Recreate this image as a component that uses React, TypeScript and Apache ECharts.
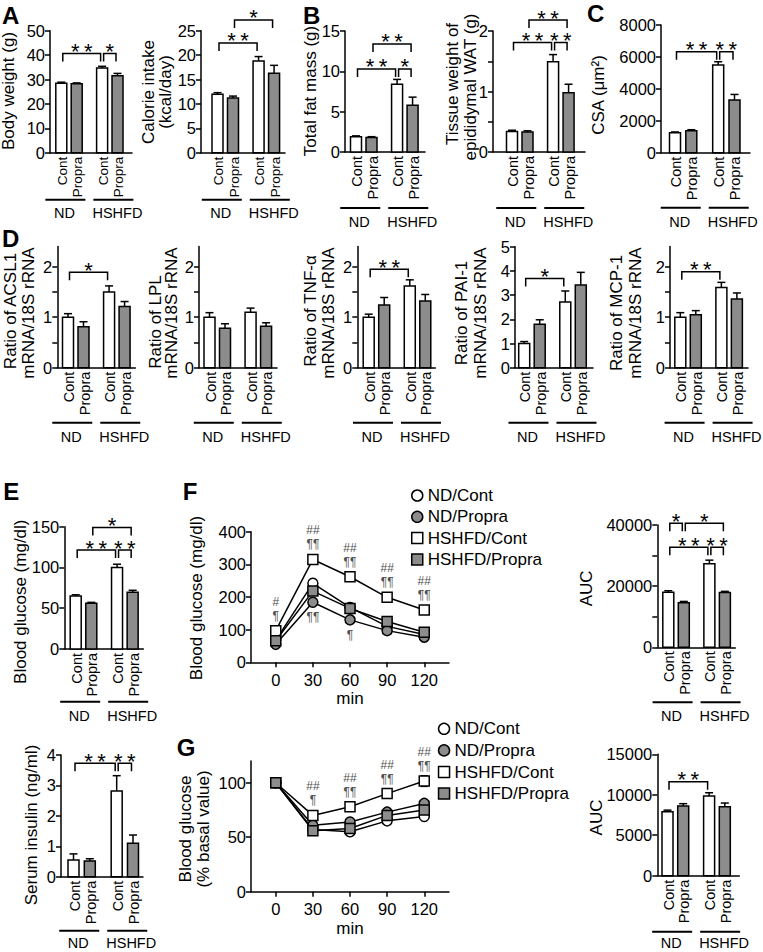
import React, { useEffect, useRef } from 'react';
import * as echarts from 'echarts';

const FONT = '"Liberation Sans", Arial, Helvetica, sans-serif';
const BLACK = '#000';
const GRAY = '#8c8c8c';
const LW = 1.5;
const BAR_W = 11;
const CAP = 4;
const TICK = 8;

// ---------- categories ----------
const treatLabels = ['Cont', 'Propra', 'Cont', 'Propra'];
const dietLabels = ['ND', 'HSHFD'];
const groupNames = ['ND/Cont', 'ND/Propra', 'HSHFD/Cont', 'HSHFD/Propra'];

// ---------- A ----------
const bodyWeightMean = [28.5, 28.3, 34.7, 31.5];
const bodyWeightSem = [0.4, 0.3, 0.7, 1.0];
const bodyWeightSig = [[0, 2, 40.7, '**'], [2, 3, 40.7, '*']];
const calorieMean = [12.0, 11.2, 18.8, 16.3];
const calorieSem = [0.3, 0.4, 0.9, 1.6];
const calorieSig = [[0, 2, 22.5, '**'], [1, 3, 27.2, '*']];
// ---------- B ----------
const fatMassMean = [1.9, 1.8, 8.4, 5.8];
const fatMassSem = [0.1, 0.1, 0.6, 1.0];
const fatMassSig = [[0, 2, 10.3, '**'], [2, 3, 10.3, '*'], [1, 3, 13.4, '**']];
const watMean = [0.34, 0.33, 1.49, 0.98];
const watSem = [0.02, 0.02, 0.12, 0.14];
const watSig = [[0, 2, 1.81, '**'], [2, 3, 1.81, '**'], [1, 3, 2.18, '**']];
// ---------- C ----------
const csaMean = [1250, 1380, 5500, 3300];
const csaSem = [50, 60, 200, 350];
const csaSig = [[0, 2, 6330, '**'], [2, 3, 6330, '**']];
// ---------- D ----------
const acsl1Mean = [1.0, 0.81, 1.5, 1.21];
const acsl1Sem = [0.07, 0.1, 0.12, 0.1];
const acsl1Sig = [[0, 2, 1.89, '*']];
const lplMean = [1.0, 0.78, 1.1, 0.82];
const lplSem = [0.09, 0.09, 0.08, 0.07];
const lplSig = [];
const tnfMean = [1.0, 1.24, 1.62, 1.32];
const tnfSem = [0.06, 0.15, 0.12, 0.13];
const tnfSig = [[0, 2, 1.95, '**']];
const pai1Mean = [1.0, 1.8, 2.72, 3.42];
const pai1Sem = [0.08, 0.18, 0.45, 0.52];
const pai1Sig = [[0, 2, 3.69, '*']];
const mcp1Mean = [1.0, 1.05, 1.59, 1.36];
const mcp1Sem = [0.09, 0.08, 0.1, 0.12];
const mcp1Sig = [[0, 2, 1.9, '**']];
// ---------- E ----------
const glucoseMean = [65, 56, 100, 69.5];
const glucoseSem = [1.5, 1.2, 4, 2.5];
const glucoseSig = [[0, 2, 121.4, '**'], [2, 3, 121.4, '**'], [1, 3, 149, '*']];
const insulinMean = [0.55, 0.52, 2.82, 1.1];
const insulinSem = [0.2, 0.07, 0.5, 0.27];
const insulinSig = [[0, 2, 3.73, '**'], [2, 3, 3.73, '**']];
// ---------- F (GTT) ----------
const gttTimes = [0, 30, 60, 90, 120];
const gttNDCont = [68, 242, 168, 110, 85];
const gttNDPropra = [55, 184, 130, 97, 77];
const gttHSHFDCont = [97, 315, 262, 199, 160];
const gttHSHFDPropra = [66, 218, 165, 125, 92];
const gttNDContErr = [3, 10, 6, 5, 4];
const gttNDPropraErr = [3, 8, 6, 5, 4];
const gttHSHFDContErr = [6, 10, 10, 10, 8];
const gttHSHFDPropraErr = [4, 9, 6, 6, 5];
const gttHashAbove = ['#', '##', '##', '##', '##'];
const gttParaAbove = ['¶', '¶¶', '¶¶', '¶¶', '¶¶'];
const gttParaBelow = ['', '¶¶', '¶', '', ''];
const gttAucMean = [18000, 14600, 27300, 17900];
const gttAucSem = [500, 400, 1200, 400];
const gttAucSig = [[0, 1, 40550, '*'], [1, 3, 40550, '*'], [0, 2, 32700, '**'], [2, 3, 32700, '**']];
// ---------- G (ITT) ----------
const ittTimes = [0, 30, 60, 90, 120];
const ittNDCont = [100, 57, 55, 65, 69];
const ittNDPropra = [100, 61, 64, 73, 81];
const ittHSHFDCont = [100, 70, 78, 90, 101.5];
const ittHSHFDPropra = [100, 56, 58, 70, 75];
const ittNDContErr = [1, 2, 2, 3, 2];
const ittNDPropraErr = [1, 2, 2, 3, 3];
const ittHSHFDContErr = [1, 2, 2, 3, 5];
const ittHSHFDPropraErr = [1, 2, 2, 3, 3];
const ittHashAbove = ['', '##', '##', '##', '##'];
const ittParaAbove = ['', '¶', '¶¶', '¶¶', '¶¶'];
const ittAucMean = [7900, 8600, 9850, 8530];
const ittAucSem = [200, 300, 400, 450];
const ittAucSig = [[0, 2, 11615, '**']];

// ---------- layout ----------
const SLOTS = [0, 1, 2.65, 3.65];
const range = (a, b, s) => { const r = []; for (let v = a; v <= b + 1e-9; v += s) r.push(+v.toFixed(4)); return r; };

const barPanels = [
  { mean: bodyWeightMean, sem: bodyWeightSem, sig: bodyWeightSig, axisX: 50, top: 30.7, y0: 152.7, width: 82, offset: 11.3, unit: 15.4, yMax: 50, ticks: range(0, 50, 10), labels: range(0, 50, 10), lineDy: 47, textDy: 60, labelSize: 13.5 },
  { mean: calorieMean, sem: calorieSem, sig: calorieSig, axisX: 201, top: 30.7, y0: 152.7, width: 84, offset: 16.5, unit: 15.5, yMax: 25, ticks: range(0, 25, 5), labels: range(0, 25, 5), lineDy: 47, textDy: 60, labelSize: 13.5 },
  { mean: fatMassMean, sem: fatMassSem, sig: fatMassSig, axisX: 345, top: 31, y0: 152, width: 80, offset: 11, unit: 15.5, yMax: 15, ticks: range(0, 15, 5), labels: range(0, 15, 5), lineDy: 56, textDy: 70, labelSize: 14.5 },
  { mean: watMean, sem: watSem, sig: watSig, axisX: 493, top: 31, y0: 152, width: 92, offset: 19, unit: 15.5, yMax: 2, ticks: range(0, 2, 0.5), labels: [0, 1, 2], lineDy: 56, textDy: 70, labelSize: 14.5 },
  { mean: csaMean, sem: csaSem, sig: csaSig, axisX: 661, top: 25, y0: 152.7, width: 89, offset: 14, unit: 16.3, yMax: 8000, ticks: range(0, 8000, 2000), labels: range(0, 8000, 2000), lineDy: 55, textDy: 69, labelSize: 14.5 },
  { mean: acsl1Mean, sem: acsl1Sem, sig: acsl1Sig, axisX: 57.3, top: 246.5, y0: 367.7, width: 78, offset: 10.7, unit: 15.5, yMax: 2.4, ticks: range(0, 2, 0.5), labels: [0, 1, 2], lineDy: 55, textDy: 69, labelSize: 14.5 },
  { mean: lplMean, sem: lplSem, sig: lplSig, axisX: 199, top: 246.5, y0: 367.7, width: 78, offset: 10.5, unit: 15.5, yMax: 2.4, ticks: range(0, 2, 0.5), labels: [0, 1, 2], lineDy: 55, textDy: 69, labelSize: 14.5 },
  { mean: tnfMean, sem: tnfSem, sig: tnfSig, axisX: 357.3, top: 246.5, y0: 367.7, width: 78, offset: 11.4, unit: 15.5, yMax: 2.4, ticks: range(0, 2, 0.5), labels: [0, 1, 2], lineDy: 55, textDy: 69, labelSize: 14.5 },
  { mean: pai1Mean, sem: pai1Sem, sig: pai1Sig, axisX: 515, top: 246.7, y0: 367.7, width: 78, offset: 9.2, unit: 15.5, yMax: 5, ticks: range(0, 5, 1), labels: range(0, 5, 1), lineDy: 55, textDy: 69, labelSize: 14.5 },
  { mean: mcp1Mean, sem: mcp1Sem, sig: mcp1Sig, axisX: 670, top: 246.5, y0: 367.7, width: 78, offset: 10.3, unit: 15.5, yMax: 2.4, ticks: range(0, 2, 0.5), labels: [0, 1, 2], lineDy: 55, textDy: 69, labelSize: 14.5 },
  { mean: glucoseMean, sem: glucoseSem, sig: glucoseSig, axisX: 64.3, top: 526.7, y0: 649, width: 79, offset: 11.4, unit: 15.6, yMax: 150, ticks: range(0, 150, 50), labels: range(0, 150, 50), lineDy: 52.7, textDy: 67, labelSize: 14.5 },
  { mean: gttAucMean, sem: gttAucSem, sig: gttAucSig, axisX: 657.3, top: 525, y0: 647.3, width: 78, offset: 11, unit: 15.5, yMax: 40000, ticks: range(0, 40000, 10000), labels: [0, 20000, 40000], lineDy: 55, textDy: 69, labelSize: 14.5 },
  { mean: insulinMean, sem: insulinSem, sig: insulinSig, axisX: 61, top: 755, y0: 876.7, width: 82, offset: 12.5, unit: 16.3, yMax: 4, ticks: range(0, 4, 1), labels: range(0, 4, 1), lineDy: 54, textDy: 66, labelSize: 14.5 },
  { mean: ittAucMean, sem: ittAucSem, sig: ittAucSig, axisX: 657.3, top: 754.3, y0: 875.7, width: 82, offset: 10.2, unit: 15.7, yMax: 15000, ticks: range(0, 15000, 5000), labels: range(0, 15000, 5000), lineDy: 56, textDy: 67, labelSize: 14.5 },
];

const linePanels = [
  {
    left: 251, top: 531.7, width: 198, y0: 662.3, yMax: 400, yTicks: range(0, 400, 100), yLabels: range(0, 400, 100),
    times: gttTimes,
    values: [gttNDCont, gttNDPropra, gttHSHFDCont, gttHSHFDPropra],
    errs: [gttNDContErr, gttNDPropraErr, gttHSHFDContErr, gttHSHFDPropraErr],
    hashAbove: gttHashAbove, paraAbove: gttParaAbove, paraBelow: gttParaBelow,
    legendLeft: 411, legendTop: 487, legendGap: 4.3,
  },
  {
    left: 251, top: 760.9, width: 198, y0: 891.7, yMax: 120, yTicks: [0, 50, 100], yLabels: [0, 50, 100],
    times: ittTimes,
    values: [ittNDCont, ittNDPropra, ittHSHFDCont, ittHSHFDPropra],
    errs: [ittNDContErr, ittNDPropraErr, ittHSHFDContErr, ittHSHFDPropraErr],
    hashAbove: ittHashAbove, paraAbove: ittParaAbove, paraBelow: null,
    legendLeft: 437.8, legendTop: 720.3, legendGap: 4.6,
  },
];

const yTitles = [
  ['Body weight (g)', 8.3, 91],
  ['Calorie intake', 148.3, 92], ['(kcal/day)', 165, 92],
  ['Total fat mass (g)', 310, 91],
  ['Tissue weight of', 452, 84], ['epididymal WAT (g)', 470, 87],
  ['CSA (μm²)', 598.3, 95],
  ['Ratio of ACSL1', 10, 311], ['mRNA/18S rRNA', 28.3, 313],
  ['Ratio of LPL', 155, 322], ['mRNA/18S rRNA', 171.7, 313],
  ['Ratio of TNF-α', 310, 311], ['mRNA/18S rRNA', 328.3, 313],
  ['Ratio of PAI-1', 461.7, 313], ['mRNA/18S rRNA', 480, 313],
  ['Ratio of MCP-1', 616.7, 313], ['mRNA/18S rRNA', 635, 313],
  ['Blood glucose (mg/dl)', 20, 601.7],
  ['Blood glucose (mg/dl)', 196.7, 598],
  ['AUC', 586.7, 588.3],
  ['Serum insulin (ng/ml)', 31.7, 825],
  ['Blood glucose', 185, 829], ['(% basal value)', 203.3, 829],
  ['AUC', 596, 817.5],
];

const panelLetters = [
  ['A', 2, 15], ['B', 303, 15], ['C', 587, 13.5], ['D', 2, 238],
  ['E', 3.3, 491], ['F', 182.7, 491.7], ['G', 176.7, 747.3],
];

function buildOption() {
  const grid = [];
  const xAxis = [];
  const yAxis = [];
  const series = [];
  const axisLine = { show: true, onZero: false, lineStyle: { color: BLACK, width: LW } };
  const txt = (size) => ({ fill: BLACK, fontSize: size, fontFamily: FONT });

  barPanels.forEach((p, idx) => {
    const xMin = -p.offset / p.unit;
    const xMax = xMin + p.width / p.unit;
    grid.push({ left: p.axisX, top: p.top, width: p.width, height: p.y0 - p.top, containLabel: false, outerBoundsMode: 'none' });
    xAxis.push({
      gridIndex: idx, type: 'value', min: xMin, max: xMax,
      axisLine, axisTick: { show: false }, axisLabel: { show: false }, splitLine: { show: false },
    });
    yAxis.push({
      gridIndex: idx, type: 'value', min: 0, max: p.yMax,
      axisLine,
      axisTick: { show: true, inside: false, length: 5, customValues: p.ticks, lineStyle: { color: BLACK, width: LW } },
      axisLabel: { show: true, margin: 5, customValues: p.labels, formatter: (v) => String(v), color: BLACK, fontSize: 16.5, fontFamily: FONT },
      splitLine: { show: false },
    });
    series.push({
      type: 'custom', xAxisIndex: idx, yAxisIndex: idx, clip: false, silent: true, z: 3,
      data: p.mean.map((m, i) => [SLOTS[i], m, p.sem[i]]),
      renderItem: (params, api) => {
        const i = params.dataIndex;
        const x = api.value(0);
        const m = api.value(1);
        const s = api.value(2);
        const top = api.coord([x, m]);
        const base = api.coord([x, 0]);
        const et = api.coord([x, m + s]);
        const cx = top[0];
        const ch = [];
        ch.push({ type: 'line', shape: { x1: cx, y1: top[1], x2: cx, y2: et[1] }, style: { stroke: BLACK, lineWidth: LW } });
        ch.push({ type: 'line', shape: { x1: cx - CAP, y1: et[1], x2: cx + CAP, y2: et[1] }, style: { stroke: BLACK, lineWidth: LW } });
        ch.push({ type: 'rect', shape: { x: cx - BAR_W / 2, y: top[1], width: BAR_W, height: base[1] - top[1] }, style: { fill: i % 2 ? GRAY : '#fff', stroke: BLACK, lineWidth: LW } });
        // treatment label, reading upwards, ending just under the axis
        ch.push({
          type: 'text', x: cx + 1, y: base[1] + 4, rotation: Math.PI / 2,
          style: { text: treatLabels[i], ...txt(p.labelSize), align: 'right', verticalAlign: 'middle' },
        });
        if (i === 0) {
          const c3 = api.coord([SLOTS[3], 0])[0];
          const mid = (cx + c3) / 2;
          const ly = base[1] + p.lineDy;
          const ty = base[1] + p.textDy;
          ch.push({ type: 'line', shape: { x1: mid - 44, y1: ly, x2: mid - 4, y2: ly }, style: { stroke: BLACK, lineWidth: 2 } });
          ch.push({ type: 'line', shape: { x1: mid + 4, y1: ly, x2: mid + 44, y2: ly }, style: { stroke: BLACK, lineWidth: 2 } });
          ch.push({ type: 'text', x: mid - 25, y: ty, style: { text: dietLabels[0], ...txt(14.5), align: 'center', verticalAlign: 'middle' } });
          ch.push({ type: 'text', x: mid + 3, y: ty, style: { text: dietLabels[1], ...txt(14.5), align: 'left', verticalAlign: 'middle' } });
        }
        return { type: 'group', children: ch };
      },
    });
    if (p.sig.length) {
      series.push({
        type: 'custom', xAxisIndex: idx, yAxisIndex: idx, clip: false, silent: true, z: 3,
        data: p.sig.map((s) => [SLOTS[s[0]], s[2], SLOTS[s[1]]]),
        renderItem: (params, api) => {
          const s = p.sig[params.dataIndex];
          const a = api.coord([api.value(0), api.value(1)]);
          const b = api.coord([api.value(2), api.value(1)]);
          const x1 = a[0] + 1.5;
          const x2 = b[0] - 1.5;
          const y = a[1];
          const star = s[3] === '**' ? '*\u2009*' : '*';
          return {
            type: 'group', children: [
              { type: 'polyline', shape: { points: [[x1, y + TICK], [x1, y], [x2, y], [x2, y + TICK]] }, style: { stroke: BLACK, lineWidth: LW, fill: 'none' } },
              { type: 'text', x: (x1 + x2) / 2, y: y - 2, style: { text: star, ...txt(22), align: 'center', verticalAlign: 'middle' } },
            ],
          };
        },
      });
    }
  });

  const symbols = ['circle', 'circle', 'rect', 'rect'];
  const fills = ['#fff', GRAY, '#fff', GRAY];
  const legends = [];
  const markStyle = { fill: '#505050', fontSize: 12, fontFamily: FONT, align: 'center', verticalAlign: 'middle' };

  linePanels.forEach((lp, k) => {
    const idx = barPanels.length + k;
    grid.push({ left: lp.left, top: lp.top, width: lp.width, height: lp.y0 - lp.top, containLabel: false, outerBoundsMode: 'none' });
    xAxis.push({
      gridIndex: idx, type: 'value', min: -20, max: 140,
      axisLine,
      axisTick: { show: true, inside: false, length: 5, customValues: lp.times, lineStyle: { color: BLACK, width: LW } },
      axisLabel: { show: true, margin: 9, customValues: lp.times, formatter: (v) => String(v), color: BLACK, fontSize: 16.5, fontFamily: FONT },
      splitLine: { show: false },
      name: 'min', nameLocation: 'middle', nameGap: 28, nameTextStyle: { color: BLACK, fontSize: 17, fontFamily: FONT },
    });
    yAxis.push({
      gridIndex: idx, type: 'value', min: 0, max: lp.yMax,
      axisLine,
      axisTick: { show: true, inside: false, length: 5, customValues: lp.yTicks, lineStyle: { color: BLACK, width: LW } },
      axisLabel: { show: true, margin: 5, customValues: lp.yLabels, formatter: (v) => String(v), color: BLACK, fontSize: 16.5, fontFamily: FONT },
      splitLine: { show: false },
    });
    // error bars
    const errData = [];
    lp.values.forEach((vals, g) => vals.forEach((v, t) => errData.push([lp.times[t], v, lp.errs[g][t]])));
    series.push({
      type: 'custom', xAxisIndex: idx, yAxisIndex: idx, clip: false, silent: true, z: 1,
      data: errData,
      renderItem: (params, api) => {
        const x = api.value(0);
        const v = api.value(1);
        const e = api.value(2);
        const hi = api.coord([x, v + e]);
        const lo = api.coord([x, v - e]);
        return {
          type: 'group', children: [
            { type: 'line', shape: { x1: hi[0], y1: hi[1], x2: lo[0], y2: lo[1] }, style: { stroke: BLACK, lineWidth: 1.2 } },
            { type: 'line', shape: { x1: hi[0] - 3.5, y1: hi[1], x2: hi[0] + 3.5, y2: hi[1] }, style: { stroke: BLACK, lineWidth: 1.2 } },
            { type: 'line', shape: { x1: lo[0] - 3.5, y1: lo[1], x2: lo[0] + 3.5, y2: lo[1] }, style: { stroke: BLACK, lineWidth: 1.2 } },
          ],
        };
      },
    });
    lp.values.forEach((vals, g) => {
      series.push({
        type: 'line', name: groupNames[g], xAxisIndex: idx, yAxisIndex: idx, silent: true, z: 2 + g * 0.1,
        data: vals.map((v, t) => [lp.times[t], v]),
        symbol: symbols[g], symbolSize: 10, showSymbol: true,
        color: fills[g],
        itemStyle: { color: fills[g], borderColor: BLACK, borderWidth: 1.5 },
        lineStyle: { color: BLACK, width: 1.5 },
        emphasis: { disabled: true },
      });
    });
    // significance marks
    const refAbove = lp.values[2];
    series.push({
      type: 'custom', xAxisIndex: idx, yAxisIndex: idx, clip: false, silent: true, z: 4,
      data: lp.times.map((t, i) => [t, refAbove[i]]),
      renderItem: (params, api) => {
        const i = params.dataIndex;
        const c = api.coord([api.value(0), api.value(1)]);
        const ch = [];
        if (lp.hashAbove[i]) ch.push({ type: 'text', x: c[0], y: c[1] - 29, style: { text: lp.hashAbove[i], ...markStyle } });
        if (lp.paraAbove[i]) ch.push({ type: 'text', x: c[0], y: c[1] - 15, style: { text: lp.paraAbove[i], ...markStyle } });
        return { type: 'group', children: ch };
      },
    });
    if (lp.paraBelow) {
      const refBelow = lp.values[1];
      series.push({
        type: 'custom', xAxisIndex: idx, yAxisIndex: idx, clip: false, silent: true, z: 4,
        data: lp.times.map((t, i) => [t, refBelow[i]]),
        renderItem: (params, api) => {
          const i = params.dataIndex;
          const c = api.coord([api.value(0), api.value(1)]);
          const ch = [];
          if (lp.paraBelow[i]) ch.push({ type: 'text', x: c[0], y: c[1] + 15, style: { text: lp.paraBelow[i], ...markStyle } });
          return { type: 'group', children: ch };
        },
      });
    }
    legends.push({
      orient: 'vertical', left: lp.legendLeft, top: lp.legendTop, padding: 0, itemGap: lp.legendGap,
      itemWidth: 11, itemHeight: 11, selectedMode: false,
      itemStyle: { borderColor: BLACK, borderWidth: 1.5 },
      textStyle: { color: BLACK, fontSize: 17, fontFamily: FONT, lineHeight: 16 },
      data: groupNames.map((n, g) => ({ name: n, icon: symbols[g] })),
    });
  });

  const graphic = [];
  yTitles.forEach(([t, x, y]) => graphic.push({
    type: 'text', x, y, rotation: Math.PI / 2, silent: true,
    style: { text: t, fill: BLACK, fontSize: 17, fontFamily: FONT, align: 'center', verticalAlign: 'middle' },
  }));
  panelLetters.forEach(([t, x, y]) => graphic.push({
    type: 'text', x, y, silent: true,
    style: { text: t, fill: BLACK, fontSize: 24, fontWeight: 'bold', fontFamily: FONT, align: 'left', verticalAlign: 'middle' },
  }));

  return {
    animation: false,
    backgroundColor: '#fff',
    textStyle: { fontFamily: FONT },
    tooltip: { show: false },
    legend: legends,
    grid, xAxis, yAxis, series, graphic,
  };
}

export default function App() {
  const ref = useRef(null);
  useEffect(() => {
    const chart = echarts.init(ref.current, null, { renderer: 'svg', width: 763, height: 952 });
    chart.setOption(buildOption());
    return () => chart.dispose();
  }, []);
  return <div ref={ref} style={{ position: 'absolute', left: 0, top: 0, width: 763, height: 952, background: '#fff' }} />;
}
